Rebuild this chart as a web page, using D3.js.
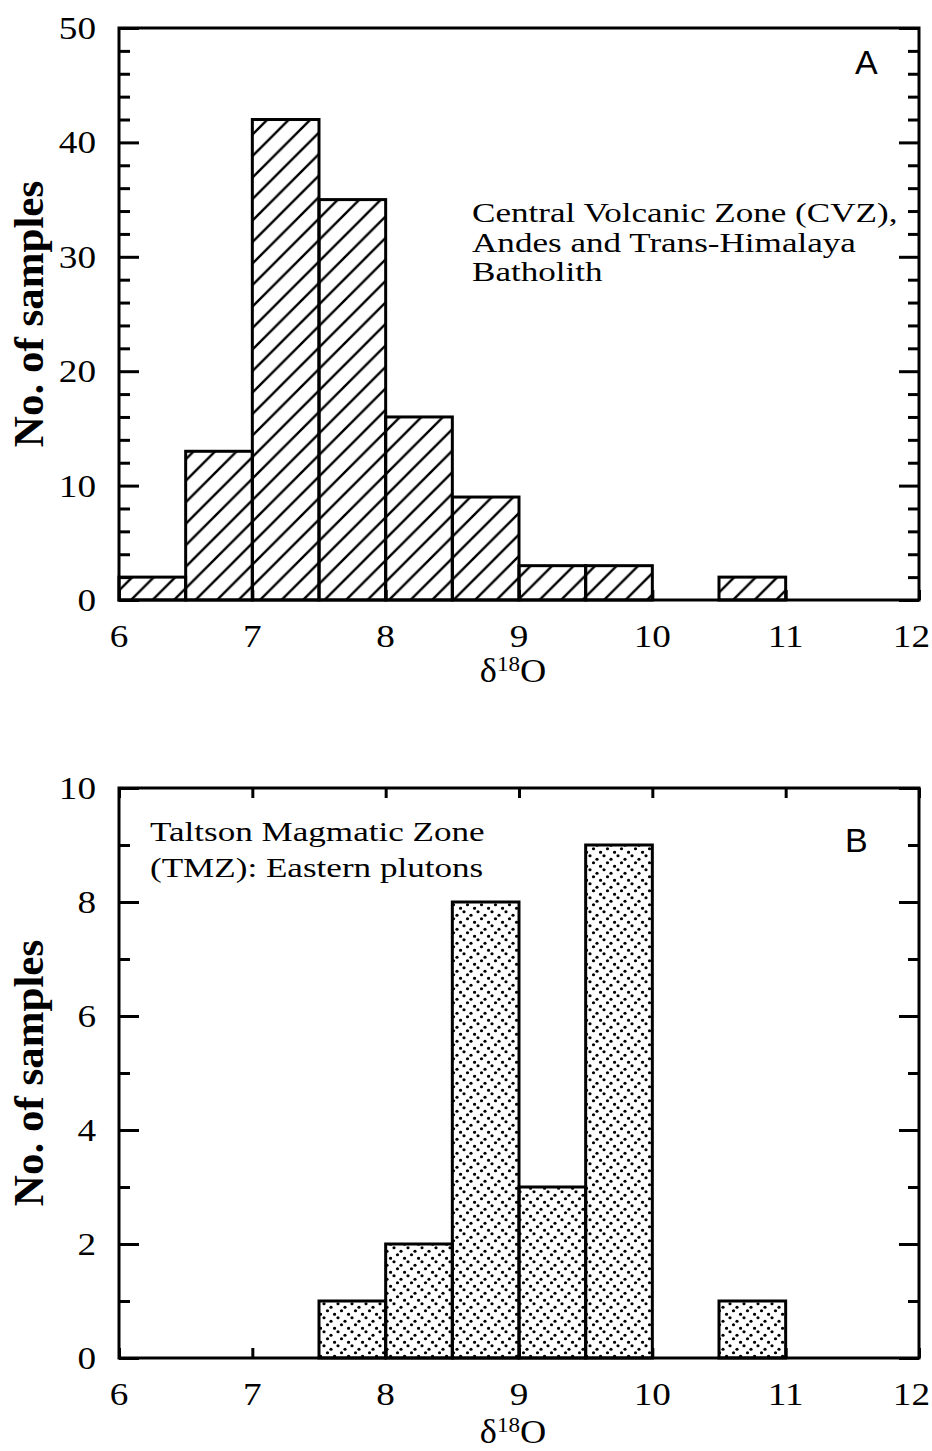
<!DOCTYPE html>
<html>
<head>
<meta charset="utf-8">
<script src="https://cdn.jsdelivr.net/npm/d3@7"></script>
<style>
  html, body { margin: 0; padding: 0; background: #fff; }
  svg { display: block; }
</style>
</head>
<body>
<svg id="chart" width="932" height="1451"></svg>
<script>
// ---- data ----
const binStarts = [6, 6.5, 7, 7.5, 8, 8.5, 9, 9.5, 10, 10.5, 11, 11.5];
const binWidth = 0.5;
const countsA = [2, 13, 42, 35, 16, 9, 3, 3, 0, 2, 0, 0];
const countsB = [0, 0, 0, 1, 2, 8, 3, 9, 0, 1, 0, 0];
const xTicks = [6, 7, 8, 9, 10, 11, 12];
const yTicksA = [0, 10, 20, 30, 40, 50];
const yMinorA = [2, 4, 6, 8, 12, 14, 16, 18, 22, 24, 26, 28, 32, 34, 36, 38, 42, 44, 46, 48];
const yTicksB = [0, 2, 4, 6, 8, 10];
const yMinorB = [1, 3, 5, 7, 9];
const labelA = "A";
const labelB = "B";
const textA = ["Central Volcanic Zone (CVZ),", "Andes and Trans-Himalaya", "Batholith"];
const textB = ["Taltson Magmatic Zone", "(TMZ): Eastern plutons"];
const yTitle = "No. of samples";

const svg = d3.select("#chart");
const defs = svg.append("defs");

// hatch pattern
const hatch = defs.append("pattern")
  .attr("id", "hatch").attr("patternUnits", "userSpaceOnUse")
  .attr("width", 21.5).attr("height", 21.5);
hatch.append("path")
  .attr("d", "M-5.375,5.375 L5.375,-5.375 M0,21.5 L21.5,0 M16.125,26.875 L26.875,16.125")
  .attr("stroke", "#000").attr("stroke-width", 2.4);

// stipple pattern
const dots = defs.append("pattern")
  .attr("id", "dots").attr("patternUnits", "userSpaceOnUse")
  .attr("width", 14).attr("height", 14);
[[2,1.75],[9,5.25],[5.5,8.75],[12.5,12.25],[-1.5,12.25]].forEach(([cx, cy]) => {
  dots.append("circle").attr("cx", cx).attr("cy", cy).attr("r", 1.6).attr("fill", "#000");
});

const serif = "'Liberation Serif', 'Times New Roman', serif";
const sans = "'Liberation Sans', Arial, sans-serif";

// helper: text with horizontal stretch
function stext(parent, x, y, str, size, sx, anchor) {
  return parent.append("text")
    .attr("transform", `translate(${x},${y}) scale(${sx},1)`)
    .attr("text-anchor", anchor || "start")
    .style("font-family", serif).style("font-size", size + "px")
    .text(str);
}

function panel(cfg) {
  const x = d3.scaleLinear().domain([6, 12]).range([119, 919]);
  const y = d3.scaleLinear().domain([0, cfg.ymax]).range([cfg.y0, cfg.y1]);
  const g = svg.append("g");

  // bars
  const bins = binStarts.map((s, i) => ({ s, c: cfg.counts[i] })).filter(d => d.c > 0);
  g.selectAll("rect.bar").data(bins).enter().append("rect")
    .attr("class", "bar")
    .attr("x", d => x(d.s))
    .attr("y", d => y(d.c))
    .attr("width", d => x(d.s + binWidth) - x(d.s))
    .attr("height", d => y(0) - y(d.c))
    .attr("fill", `url(#${cfg.pattern})`)
    .attr("stroke", "#000").attr("stroke-width", 3);

  // frame
  g.append("rect")
    .attr("x", x(6)).attr("y", y(cfg.ymax))
    .attr("width", x(12) - x(6)).attr("height", y(0) - y(cfg.ymax))
    .attr("fill", "none").attr("stroke", "#000").attr("stroke-width", 3);

  // y axes (inward ticks)
  const left = d3.axisRight(y).tickValues(cfg.yTicks).tickSize(20).tickFormat("");
  g.append("g").attr("transform", `translate(${x(6)},0)`).call(left);
  const leftMinor = d3.axisRight(y).tickValues(cfg.yMinor).tickSize(11).tickFormat("");
  g.append("g").attr("transform", `translate(${x(6)},0)`).call(leftMinor);
  const right = d3.axisLeft(y).tickValues(cfg.yTicks).tickSize(20).tickFormat("");
  g.append("g").attr("transform", `translate(${x(12)},0)`).call(right);
  const rightMinor = d3.axisLeft(y).tickValues(cfg.yMinor).tickSize(11).tickFormat("");
  g.append("g").attr("transform", `translate(${x(12)},0)`).call(rightMinor);

  // x axis bottom ticks inward
  const bottom = d3.axisTop(x).tickValues(xTicks).tickSize(10).tickFormat("");
  g.append("g").attr("transform", `translate(0,${y(0)})`).call(bottom);
  if (cfg.topTicks) {
    const top = d3.axisBottom(x).tickValues(xTicks).tickSize(10).tickFormat("");
    g.append("g").attr("transform", `translate(0,${y(cfg.ymax)})`).call(top);
  }
  g.selectAll(".domain").remove();
  g.selectAll(".tick line").attr("stroke", "#000").attr("stroke-width", 3);

  // y tick labels
  cfg.yTicks.forEach(d => stext(g, 96, y(d) + 11, d, 31, 1.2, "end"));

  // x tick labels
  xTicks.forEach(d => {
    const t = stext(g, x(d), y(0) + 47, d, 31, 1.2, "middle");
    const w = t.node().getComputedTextLength() * 1.2;
    const cx = Math.min(x(d), 930 - w / 2);
    t.attr("transform", `translate(${cx},${y(0) + 47}) scale(1.2,1)`);
  });

  // x title
  const xt = g.append("text")
    .attr("transform", `translate(${x(9) - 6},${y(0) + cfg.xTitleOff}) scale(1.1,1)`)
    .attr("text-anchor", "middle")
    .style("font-family", serif).style("font-size", "33px");
  xt.append("tspan").text("δ");
  xt.append("tspan").attr("dy", -11).style("font-size", "21px").text("18");
  xt.append("tspan").attr("dy", 11).text("O");

  // y title
  const ymid = (y(0) + y(cfg.ymax)) / 2;
  g.append("text")
    .attr("transform", `translate(43,${ymid}) rotate(-90)`)
    .attr("text-anchor", "middle")
    .style("font-family", serif).style("font-size", "43px").style("font-weight", "bold")
    .text(yTitle);

  // panel letter
  g.append("text")
    .attr("x", cfg.letterX).attr("y", cfg.letterY)
    .style("font-family", sans).style("font-size", "34px")
    .text(cfg.letter);

  // annotation text
  cfg.note.forEach((d, i) => stext(g, cfg.noteX, cfg.noteY + i * cfg.noteDy, d, 27, 1.3, "start"));
}

panel({
  counts: countsA, ymax: 50, y0: 600, y1: 28, pattern: "hatch",
  yTicks: yTicksA, yMinor: yMinorA, topTicks: false, xTitleOff: 82,
  letter: labelA, letterX: 855, letterY: 74,
  note: textA, noteX: 472, noteY: 222, noteDy: 29.5
});
panel({
  counts: countsB, ymax: 10, y0: 1358, y1: 788, pattern: "dots",
  yTicks: yTicksB, yMinor: yMinorB, topTicks: true, xTitleOff: 85,
  letter: labelB, letterX: 845, letterY: 852,
  note: textB, noteX: 150, noteY: 841, noteDy: 36
});
</script>
</body>
</html>
